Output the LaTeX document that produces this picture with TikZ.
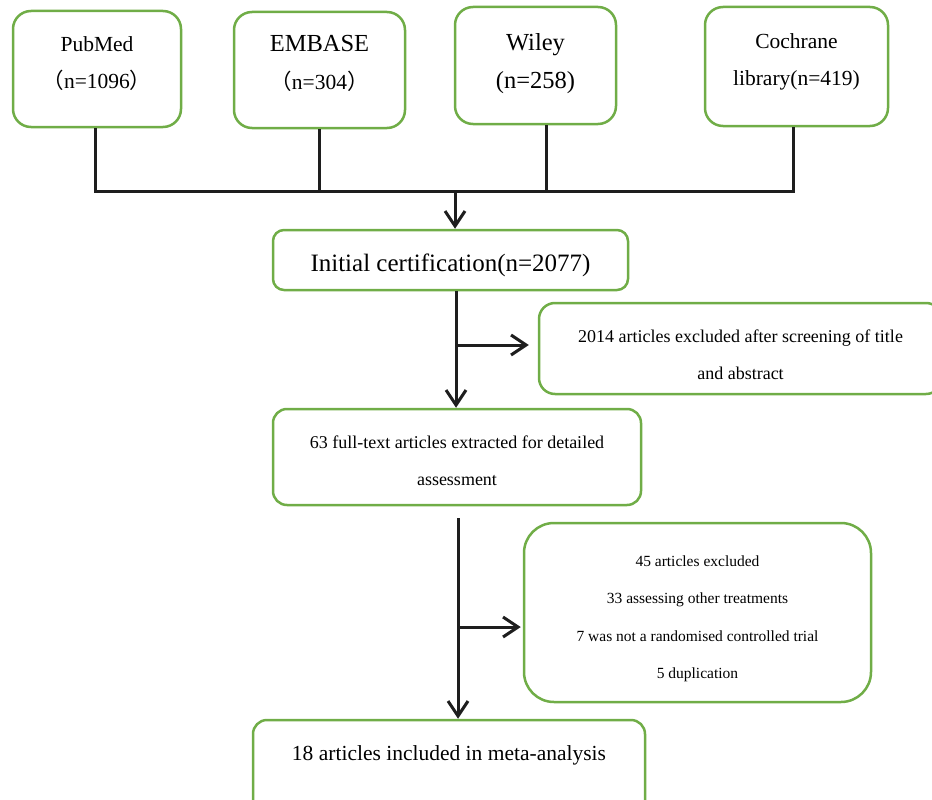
\documentclass[tikz,border=0pt]{standalone}
\usepackage{fontspec}
\setmainfont{Liberation Serif}
\newfontfamily\cjkfont{Noto Sans CJK SC}
\usepackage{xcolor}
\usepackage{tikz}
\usetikzlibrary{positioning}
\usetikzlibrary{arrows.meta}
\pgfdeclarelayer{nodelayer}
\pgfdeclarelayer{edgelayer}
\pgfsetlayers{nodelayer,edgelayer,main}
\definecolor{boxgreen}{RGB}{112,173,71}
\definecolor{linkblack}{RGB}{30,30,30}
% struts that move the text of a box up or down
\newcommand{\tophold}[1]{\rule{0pt}{#1}}
\newcommand{\foothold}[1]{\rule[-#1]{0pt}{0pt}}

\begin{document}
\begin{tikzpicture}[x=1pt, y=-1pt,
    box/.style={draw=boxgreen, line width=2.5pt, rounded corners=18pt, align=center, inner sep=0pt},
    link/.style={draw=linkblack, line width=3pt},
    arrow/.style={link, -{Straight Barb[length=15pt, width=20pt]}}]
  \useasboundingbox (0, 0) rectangle (932, 800);
  \begin{pgfonlayer}{nodelayer}
    \node [box, minimum width=168, minimum height=116, font=\fontsize{21.5}{37}\selectfont] (pubmed) at (97, 69) {PubMed\\{\cjkfont （}n=1096{\cjkfont ）}\foothold{13pt}};
    \node [box, minimum width=171, minimum height=116, font=\fontsize{24.5}{38}\selectfont] (embase) at (319.5, 70) {EMBASE\\{\fontsize{21.5}{38}\selectfont\cjkfont （}{\fontsize{21.5}{38}\selectfont n=304}{\fontsize{21.5}{38}\selectfont\cjkfont ）}\foothold{15pt}};
    \node [box, minimum width=161, minimum height=117, font=\fontsize{24.5}{38}\selectfont] (wiley) at (535.5, 65.5) {Wiley\\(n=258)\foothold{9pt}};
    \node [box, minimum width=183, minimum height=119, font=\fontsize{21.5}{37}\selectfont] (cochrane) at (796.5, 66.5) {Cochrane\\library(n=419)\foothold{13pt}};
    \node [box, rounded corners=11pt, minimum width=355, minimum height=60, font=\fontsize{25}{30}\selectfont] (initial) at (450.5, 260) {\tophold{27.5pt}Initial certification(n=2077)};
    \node [box, rounded corners=16pt, minimum width=403, minimum height=91, font=\fontsize{18}{37}\selectfont] (excl1) at (740.5, 348.5) {\tophold{24.5pt}2014 articles excluded after screening of title\\and abstract};
    \node [box, rounded corners=14pt, minimum width=368, minimum height=96, font=\fontsize{18}{37}\selectfont] (fulltext) at (457, 457) {\tophold{20.5pt}63 full-text articles extracted for detailed\\assessment};
    \node [box, rounded corners=30pt, minimum width=347, minimum height=179, font=\fontsize{15.5}{37.5}\selectfont] (excl2) at (697.5, 612.5) {\tophold{23.5pt}45 articles excluded\\33 assessing other treatments\\7 was not a randomised controlled trial\\5 duplication};
    \node [box, rounded corners=14pt, minimum width=392, minimum height=100, text height=14pt, text depth=34pt, font=\fontsize{21.5}{26}\selectfont] (included) at (449, 770) {18 articles included in meta-analysis};
  \end{pgfonlayer}
  \begin{pgfonlayer}{edgelayer}
    \coordinate (bus) at (455, 191);
    \coordinate (pubfoot) at ([xshift=-2]pubmed.south);
    \coordinate (wileyfoot) at ([xshift=10.5]wiley.south);
    \coordinate (cochfoot) at ([xshift=-3.5]cochrane.south);
    \draw [link] (pubfoot) -- (pubfoot |- bus) -- (cochfoot |- bus) -- (cochfoot);
    \draw [link] (embase.south) -- (embase.south |- bus);
    \draw [link] (wileyfoot) -- (wileyfoot |- bus);
    \draw [arrow] (bus) -- (initial.north -| bus);
    % exclusions after the first screening
    \coordinate (split1) at (456, 345);
    \draw [arrow] (initial.south -| split1) -- (fulltext.north -| split1);
    \draw [arrow, shorten >=9pt] (split1) -- (excl1.west |- split1);
    % exclusions after the full-text reading
    \coordinate (split2) at (458, 627);
    \coordinate (gap) at ([yshift=-12]fulltext.south);
    \draw [arrow] (gap -| split2) -- (included.north -| split2);
    \draw [arrow, shorten >=2pt] (split2) -- (excl2.west |- split2);
  \end{pgfonlayer}
\end{tikzpicture}
\end{document}
